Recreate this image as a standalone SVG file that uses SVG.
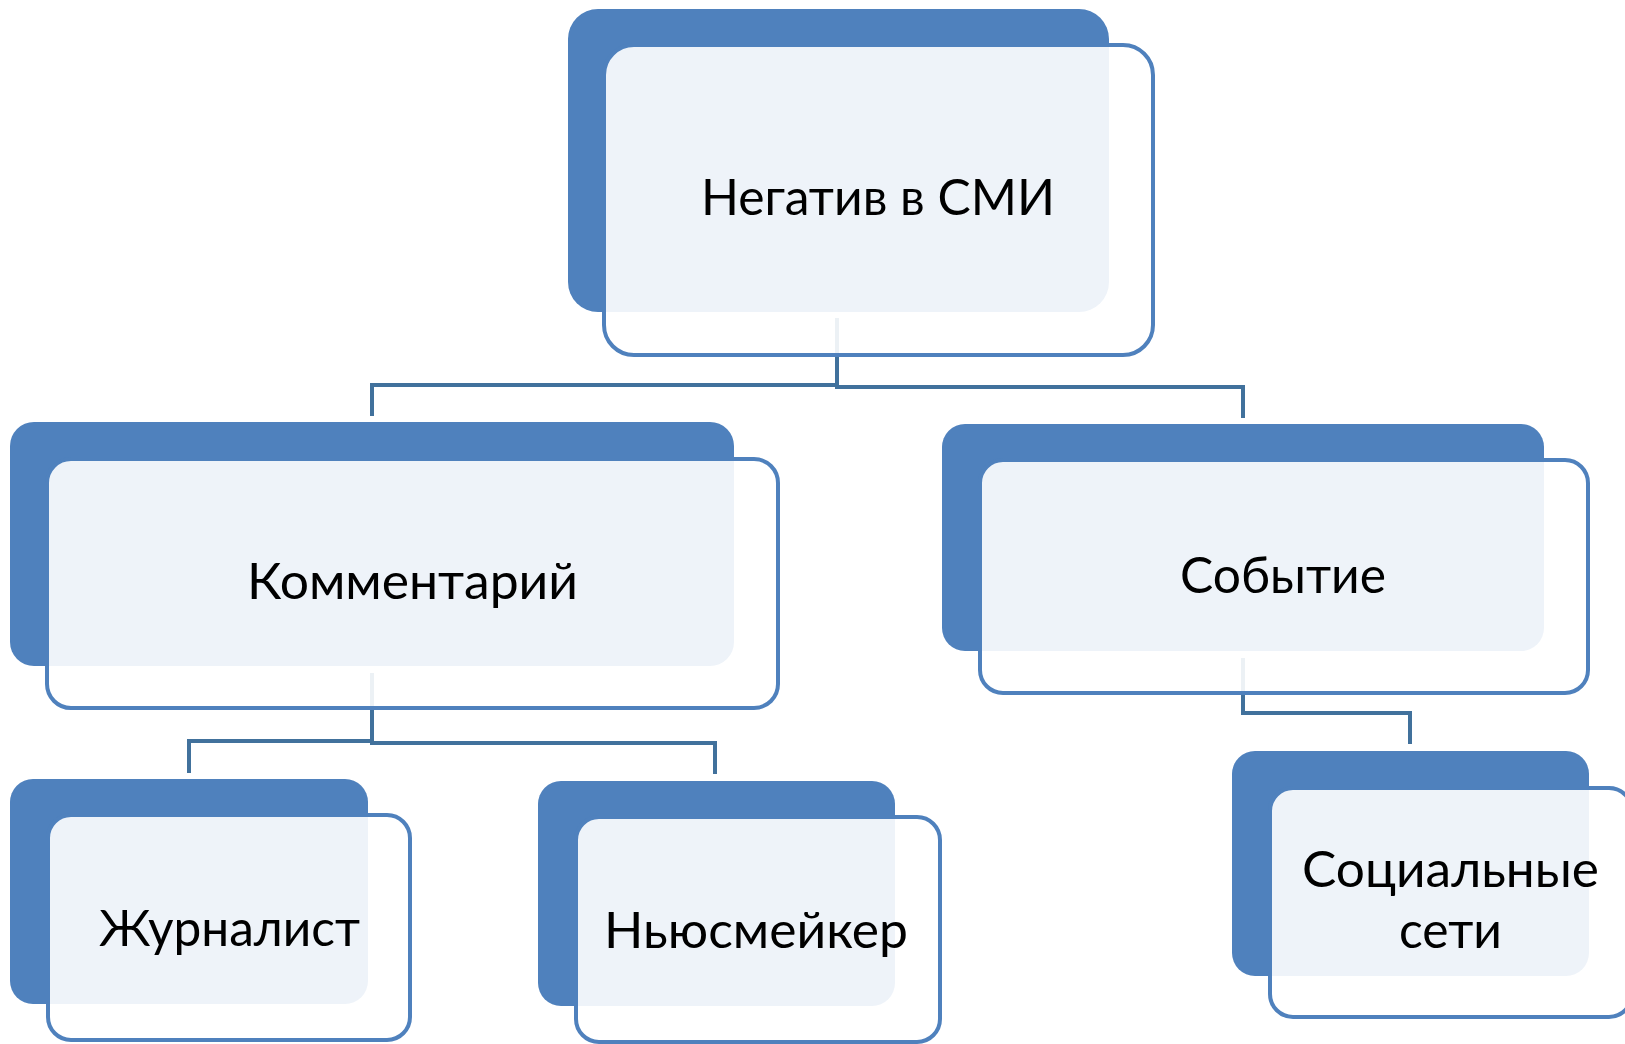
<svg xmlns="http://www.w3.org/2000/svg" width="1625" height="1044" viewBox="0 0 1625 1044">
<style>
.back{fill:#4F81BD}
.inner{fill:#FFFFFF;fill-opacity:0.9;stroke:#4F81BD;stroke-width:4}
.conn{fill:none;stroke:#41719C;stroke-width:4}
.lbl{font-family:Lato,"Liberation Sans",sans-serif;font-size:50px;fill:#000000}
</style>
<rect width="1625" height="1044" fill="#FFFFFF"/>
<g id="backs">
<rect class="back" x="568" y="9" width="541" height="303" rx="30"/>
<rect class="back" x="10" y="422" width="724" height="244" rx="24"/>
<rect class="back" x="942" y="424" width="602" height="227" rx="23"/>
<rect class="back" x="10" y="779" width="358" height="225" rx="23"/>
<rect class="back" x="538" y="781" width="357" height="225" rx="23"/>
<rect class="back" x="1232" y="751" width="357" height="225" rx="23"/>
</g>
<g id="connectors">
<path class="conn" d="M837,318 V385 H372 V416"/>
<path class="conn" d="M837,318 V387 H1243 V418"/>
<path class="conn" d="M372,673 V741 H189 V773"/>
<path class="conn" d="M372,673 V743 H715 V774"/>
<path class="conn" d="M1243,658 V713 H1410 V744"/>
</g>
<g id="node-root">
<rect class="inner" x="604" y="45" width="549" height="310" rx="30"/>
<text class="lbl" x="701" y="215" textLength="354" lengthAdjust="spacingAndGlyphs">Негатив в СМИ</text>
</g>
<g id="node-comment">
<rect class="inner" x="47" y="459" width="731" height="249" rx="24"/>
<text class="lbl" x="247" y="599" textLength="331" lengthAdjust="spacingAndGlyphs">Комментарий</text>
</g>
<g id="node-event">
<rect class="inner" x="980" y="460" width="608" height="233" rx="23"/>
<text class="lbl" x="1180" y="593" textLength="206" lengthAdjust="spacingAndGlyphs">Событие</text>
</g>
<g id="node-journalist">
<rect class="inner" x="48" y="815" width="362" height="225" rx="23"/>
<text class="lbl" x="99" y="946" textLength="261" lengthAdjust="spacingAndGlyphs">Журналист</text>
</g>
<g id="node-newsmaker">
<rect class="inner" x="576" y="817" width="364" height="225" rx="23"/>
<text class="lbl" x="604" y="948" textLength="304" lengthAdjust="spacingAndGlyphs">Ньюсмейкер</text>
</g>
<g id="node-social">
<rect class="inner" x="1270" y="788" width="362" height="229" rx="23"/>
<text class="lbl" x="1302" y="887" textLength="297" lengthAdjust="spacingAndGlyphs">Социальные</text>
<text class="lbl" x="1399" y="948" textLength="103" lengthAdjust="spacingAndGlyphs">сети</text>
</g>
</svg>
